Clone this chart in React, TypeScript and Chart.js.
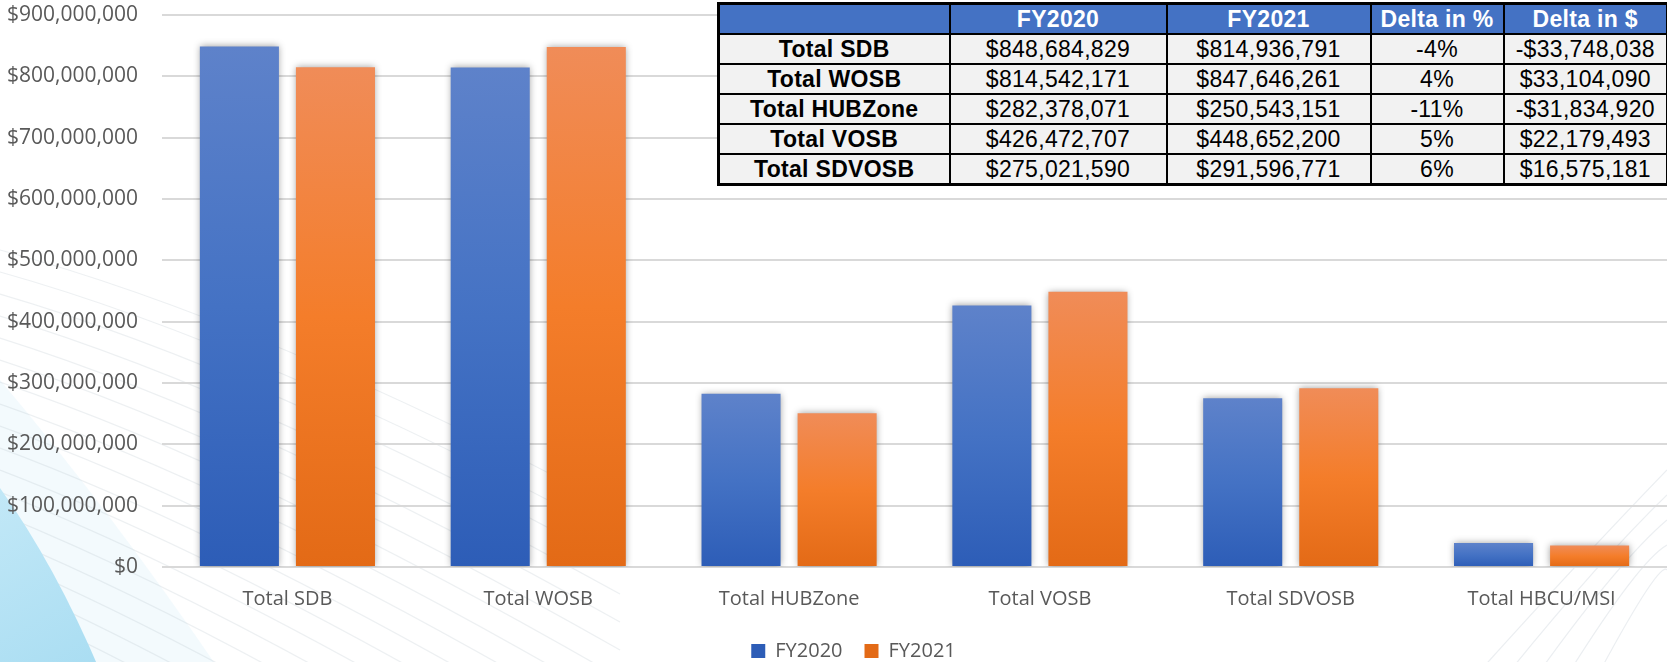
import React, { useEffect, useRef } from "react";
import { Chart, registerables } from "chart.js";

Chart.register(...registerables);

// ---------- DATA ----------
const categories = [
  "Total SDB",
  "Total WOSB",
  "Total HUBZone",
  "Total VOSB",
  "Total SDVOSB",
  "Total HBCU/MSI",
];
const fy2020Values = [848684829, 814542171, 282378071, 426472707, 275021590, 39000000];
const fy2021Values = [814936791, 847646261, 250543151, 448652200, 291596771, 35000000];
const seriesNames = ["FY2020", "FY2021"];
const yTickValues = [0, 100000000, 200000000, 300000000, 400000000, 500000000, 600000000, 700000000, 800000000, 900000000];

const tableHeader = ["", "FY2020", "FY2021", "Delta in %", "Delta in $"];
const tableRowNames = ["Total SDB", "Total WOSB", "Total HUBZone", "Total VOSB", "Total SDVOSB"];
const tableFY2020 = ["$848,684,829", "$814,542,171", "$282,378,071", "$426,472,707", "$275,021,590"];
const tableFY2021 = ["$814,936,791", "$847,646,261", "$250,543,151", "$448,652,200", "$291,596,771"];
const tableDeltaPct = ["-4%", "4%", "-11%", "5%", "6%"];
const tableDeltaUsd = ["-$33,748,038", "$33,104,090", "-$31,834,920", "$22,179,493", "$16,575,181"];

// ---------- STYLE ----------
const blueStops = ["#5E82CA", "#4472C4", "#2D5DB7"];
const orangeStops = ["#F08C58", "#F47D2A", "#E36A16"];
const textGray = "#595959";
const colWidths = [231, 217, 204, 133, 164];

function fmtDollar(v: number) {
  return "$" + Number(v).toLocaleString("en-US");
}

function barGradient(stops: string[]) {
  return (ctx: any) => {
    const chart = ctx.chart;
    if (!chart.chartArea || ctx.type !== "data" || !chart.scales || !chart.scales.y) return stops[1];
    const y = chart.scales.y;
    const top = y.getPixelForValue(ctx.raw);
    const bottom = y.getPixelForValue(0);
    if (!isFinite(top) || !isFinite(bottom) || Math.abs(bottom - top) < 1) return stops[1];
    const g = chart.ctx.createLinearGradient(0, top, 0, bottom);
    g.addColorStop(0, stops[0]);
    g.addColorStop(0.5, stops[1]);
    g.addColorStop(1, stops[2]);
    return g;
  };
}

const backgroundPlugin = {
  id: "bgDecor",
  beforeDraw(chart: any) {
    const { ctx, width, height } = chart;
    ctx.save();
    ctx.fillStyle = "#ffffff";
    ctx.fillRect(0, 0, width, height);
    // soft cyan halo lower-left
    ctx.beginPath();
    ctx.moveTo(0, 380);
    ctx.quadraticCurveTo(110, 510, 220, height);
    ctx.lineTo(0, height);
    ctx.closePath();
    ctx.fillStyle = "rgba(220,242,250,0.35)";
    ctx.fill();
    // faint diagonal lines
    ctx.strokeStyle = "rgba(185,195,205,0.25)";
    ctx.lineWidth = 1.2;
    for (let i = 0; i < 22; i++) {
      const y0 = 250 + i * 22;
      ctx.beginPath();
      ctx.moveTo(0, y0);
      ctx.quadraticCurveTo(260, y0 + 70 + i * 3, 620, y0 + 260 + i * 6);
      ctx.stroke();
    }
    // light blue swoosh
    ctx.beginPath();
    ctx.moveTo(0, 488);
    ctx.quadraticCurveTo(55, 565, 100, height);
    ctx.lineTo(0, height);
    ctx.closePath();
    const g = ctx.createLinearGradient(0, 488, 100, height);
    g.addColorStop(0, "#C2E8F7");
    g.addColorStop(1, "#A9DDF2");
    ctx.fillStyle = g;
    ctx.fill();
    // faint curves lower-right
    ctx.strokeStyle = "rgba(190,200,210,0.3)";
    for (let i = 0; i < 5; i++) {
      ctx.beginPath();
      ctx.moveTo(1480 + i * 30, height);
      ctx.quadraticCurveTo(1580 + i * 20, 560, 1667, 470 + i * 25);
      ctx.stroke();
    }
    ctx.restore();
  },
};

const shadowPlugin = {
  id: "barShadow",
  beforeDatasetsDraw(chart: any) {
    const c = chart.ctx;
    c.save();
    c.shadowColor = "rgba(0,0,0,0.38)";
    c.shadowBlur = 7;
    c.shadowOffsetX = 0;
    c.shadowOffsetY = 0;
  },
  afterDatasetsDraw(chart: any) {
    chart.ctx.restore();
  },
};

const legendShiftPlugin = {
  id: "legendShift",
  afterLayout(chart: any) {
    const lg = chart.legend;
    if (lg) {
      lg.left += 20;
      lg.right += 20;
    }
  },
};

function ChartCanvas() {
  const ref = useRef<HTMLCanvasElement | null>(null);
  useEffect(() => {
    if (!ref.current) return;
    const chart = new Chart(ref.current, {
      type: "bar",
      data: {
        labels: categories,
        datasets: [
          {
            label: seriesNames[0],
            data: fy2020Values,
            backgroundColor: barGradient(blueStops),
            categoryPercentage: 0.766,
            barPercentage: 0.823,
          },
          {
            label: seriesNames[1],
            data: fy2021Values,
            backgroundColor: barGradient(orangeStops),
            categoryPercentage: 0.766,
            barPercentage: 0.823,
          },
        ],
      },
      options: {
        animation: false,
        responsive: true,
        maintainAspectRatio: false,
        layout: { padding: { top: 15, left: 0, right: 0, bottom: 0 } },
        plugins: {
          tooltip: { enabled: false },
          legend: {
            position: "bottom",
            labels: {
              boxWidth: 14,
              boxHeight: 14,
              padding: 22,
              color: textGray,
              font: { family: "'Open Sans', sans-serif", size: 20 },
            },
          },
        },
        scales: {
          x: {
            grid: { display: false, drawTicks: false },
            border: { display: false },
            ticks: {
              color: textGray,
              padding: 20,
              font: { family: "'Open Sans', sans-serif", size: 20 },
              maxRotation: 0,
            },
            afterFit(scale: any) {
              scale.height = 52;
            },
          },
          y: {
            min: yTickValues[0],
            max: yTickValues[yTickValues.length - 1],
            grid: { color: "#D9D9D9", lineWidth: 2, drawTicks: false },
            border: { display: false },
            afterBuildTicks(scale: any) {
              scale.ticks = yTickValues.map((v) => ({ value: v }));
            },
            ticks: {
              color: textGray,
              padding: 24,
              font: { family: "'Open Sans', sans-serif", size: 21 },
              callback: (v: any) => fmtDollar(v),
            },
            afterFit(scale: any) {
              scale.width = 162;
              scale.paddingTop = 12;
              scale.paddingBottom = 12;
            },
          },
        },
      },
      plugins: [backgroundPlugin, shadowPlugin, legendShiftPlugin],
    } as any);
    return () => chart.destroy();
  }, []);
  return <canvas ref={ref} style={{ display: "block" }} />;
}

function DataTable() {
  const outer = "3px solid #000";
  const inner = "2px solid #000";
  const cellBase: React.CSSProperties = {
    fontFamily: "'Liberation Sans', Arial, sans-serif",
    fontSize: 23,
    letterSpacing: 0.3,
    textAlign: "center",
    verticalAlign: "middle",
    padding: 0,
    height: 28,
    lineHeight: "28px",
    whiteSpace: "nowrap",
    border: inner,
  };
  const rows = tableRowNames.map((name, i) => [name, tableFY2020[i], tableFY2021[i], tableDeltaPct[i], tableDeltaUsd[i]]);
  return (
    <table
      style={{
        position: "absolute",
        left: 717,
        top: 2,
        width: 950,
        borderCollapse: "collapse",
        tableLayout: "fixed",
        border: outer,
        background: "#F2F2F2",
      }}
    >
      <colgroup>
        {colWidths.map((w, i) => (
          <col key={i} style={{ width: w }} />
        ))}
      </colgroup>
      <thead>
        <tr>
          {tableHeader.map((h, i) => (
            <th
              key={i}
              style={{ ...cellBase, background: "#4472C4", color: "#fff", fontWeight: 700 }}
            >
              {h}
            </th>
          ))}
        </tr>
      </thead>
      <tbody>
        {rows.map((r, ri) => (
          <tr key={ri}>
            {r.map((c, ci) => (
              <td
                key={ci}
                style={{ ...cellBase, color: "#000", fontWeight: ci === 0 ? 700 : 400 }}
              >
                {c}
              </td>
            ))}
          </tr>
        ))}
      </tbody>
    </table>
  );
}

export default function App() {
  return (
    <div
      style={{
        position: "fixed",
        left: 0,
        top: 0,
        width: 1667,
        height: 671,
        background: "#fff",
        overflow: "hidden",
      }}
    >
      <div style={{ position: "absolute", left: 0, top: 0, width: 1667, height: 671 }}>
        <ChartCanvas />
      </div>
      <DataTable />
    </div>
  );
}
